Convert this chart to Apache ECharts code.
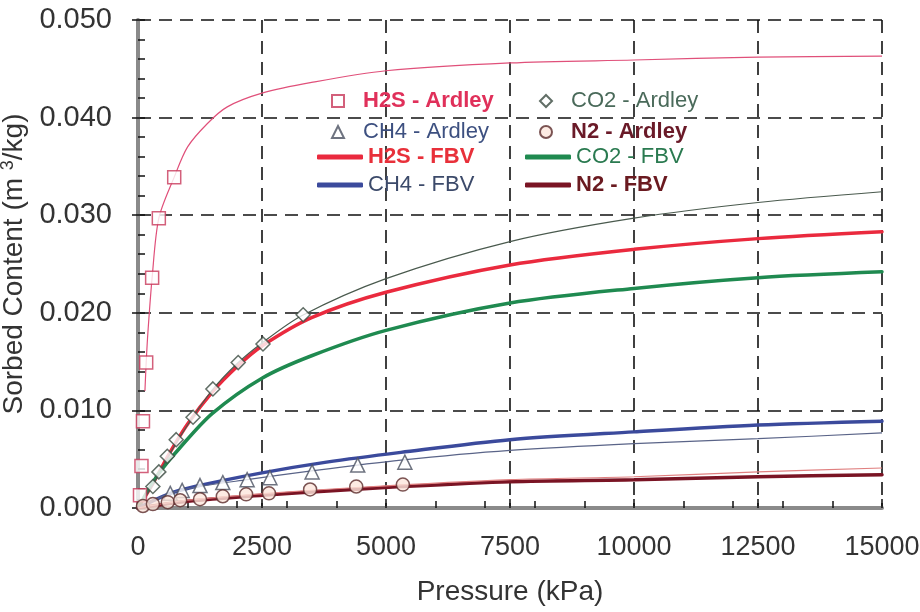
<!DOCTYPE html>
<html><head><meta charset="utf-8">
<script src="https://cdn.jsdelivr.net/npm/echarts@6/dist/echarts.min.js"></script>
<style>html,body{margin:0;padding:0;background:#fff}#c{width:920px;height:612px}</style>
</head><body><div id="c"></div>
<script>
// ---- tick labels ----
const xTickValues = [0, 2500, 5000, 7500, 10000, 12500, 15000];
const yTickValues = [0.000, 0.010, 0.020, 0.030, 0.040, 0.050];
const xTitle = 'Pressure (kPa)';

// ---- series names ----
const seriesNames = ['H2S - Ardley','CO2 - Ardley','CH4 - Ardley','N2 - Ardley','H2S - FBV','CO2 - FBV','CH4 - FBV','N2 - FBV'];

// ---- Ardley measured points [pressure kPa, sorbed m3/kg] ----
const h2sArdleyPts = [[40,0.0013],[70,0.0043],[100,0.0089],[165,0.0149],[285,0.0236],[420,0.0297],[730,0.0339]];
const co2ArdleyPts = [[300,0.0022],[420,0.0037],[590,0.0053],[770,0.0070],[1110,0.0093],[1510,0.0122],[2020,0.0149],[2520,0.0168],[3330,0.0198]];
const ch4ArdleyPts = [[650,0.0015],[890,0.0018],[1250,0.0023],[1710,0.0026],[2200,0.0029],[2660,0.0031],[3510,0.0037],[4430,0.0044],[5380,0.0047]];
const n2ArdleyPts  = [[100,0.0002],[300,0.0004],[600,0.0006],[850,0.0008],[1250,0.0009],[1710,0.0012],[2180,0.0014],[2640,0.0015],[3470,0.0019],[4400,0.0022],[5340,0.0024]];

// ---- Ardley fitted curves (thin lines) ----
const h2sArdleyFit = [[140,0.0120],[165,0.0149],[200,0.0180],[285,0.0236],[420,0.0297],[730,0.0339],[1000,0.0370],[1400,0.0394],[1800,0.0411],[2500,0.0425],[3500,0.0436],[5000,0.0448],[7500,0.0456],[10000,0.0459],[12500,0.0462],[15000,0.0463]];
const co2ArdleyFit = [[0,0],[300,0.0024],[600,0.0052],[1000,0.0085],[1500,0.0121],[2000,0.0148],[2500,0.0169],[3300,0.0197],[5000,0.0235],[7500,0.0273],[10000,0.0297],[12500,0.0313],[15000,0.0324]];
const ch4ArdleyFit = [[0,0],[650,0.0015],[1250,0.0022],[2200,0.0029],[3500,0.0038],[5300,0.0049],[7500,0.0059],[10000,0.0066],[12500,0.0071],[15000,0.0077]];
const n2ArdleyFit  = [[0,0],[1000,0.0008],[2600,0.0015],[4400,0.0021],[7500,0.0029],[10000,0.0032],[12500,0.0037],[15000,0.0041]];

// ---- FBV curves (thick lines) ----
const h2sFBV = [[0,0],[300,0.0025],[600,0.0053],[1000,0.0086],[1500,0.0119],[2000,0.0145],[2500,0.0166],[3500,0.0195],[5000,0.0221],[7500,0.0249],[10000,0.0265],[12500,0.0276],[15000,0.0283]];
const co2FBV = [[0,0],[400,0.0034],[850,0.0062],[1500,0.0097],[2500,0.0133],[3500,0.0156],[5000,0.0182],[7500,0.0210],[10000,0.0225],[12500,0.0236],[15000,0.0242]];
const ch4FBV = [[0,0],[600,0.0014],[1150,0.0022],[2500,0.0036],[3800,0.0047],[5300,0.0057],[7500,0.0070],[10000,0.0078],[12500,0.0085],[15000,0.0089]];
const n2FBV  = [[0,0],[1000,0.0007],[2500,0.0013],[4000,0.0018],[5300,0.0022],[7500,0.0027],[10000,0.0029],[12500,0.0032],[15000,0.0034]];

const FONT = "'Liberation Sans',Arial,sans-serif";
const chart = echarts.init(document.getElementById('c'), null, {renderer:'canvas'});

const xMin = xTickValues[0], xMax = xTickValues[xTickValues.length-1], xInt = xTickValues[1]-xTickValues[0];
const yMin = yTickValues[0], yMax = yTickValues[yTickValues.length-1], yInt = yTickValues[1]-yTickValues[0];

const dash = {show:true, lineStyle:{color:'#111', width:1.6, type:[13,8]}};

function thick(name, data, color){
  return {name, type:'line', data, symbol:'none', showSymbol:false, smooth:0.3, z:2,
    lineStyle:{color, width:3.5, cap:'round'}, itemStyle:{color}};
}
function thin(name, data, color){
  return {name, type:'line', data, symbol:'none', showSymbol:false, smooth:0.3, z:3,
    lineStyle:{color, width:1.2}, itemStyle:{color}, silent:true};
}
function pts(name, data, symbol, border, fill, size){
  return {name, type:'scatter', data, symbol, symbolSize:size, z:4,
    itemStyle:{color:fill, borderColor:border, borderWidth:1.5}};
}

const series = [
  thick(seriesNames[4], h2sFBV, '#ea2a3e'),
  thick(seriesNames[5], co2FBV, '#1f8a50'),
  thick(seriesNames[6], ch4FBV, '#3b4a9c'),
  thick(seriesNames[7], n2FBV, '#7a1424'),
  thin('h2sFit', h2sArdleyFit, '#e0507a'),
  thin('co2Fit', co2ArdleyFit, '#4a5a4e'),
  thin('ch4Fit', ch4ArdleyFit, '#5a6488'),
  thin('n2Fit', n2ArdleyFit, '#e08080'),
  pts(seriesNames[0], h2sArdleyPts, 'rect', '#c8385a', '#fff', 13),
  pts(seriesNames[1], co2ArdleyPts, 'diamond', '#3a4a40', '#fff', 14),
  pts(seriesNames[2], ch4ArdleyPts, 'triangle', '#4a5060', '#fff', 14),
  pts(seriesNames[3], n2ArdleyPts, 'circle', '#5a2a2a', '#fde6dc', 13)
];

const legendSpec = [
  {name:seriesNames[0], left:331, cy:103, line:false, color:'#e0305a', bold:true},
  {name:seriesNames[2], left:331, cy:134, line:false, color:'#3d5080', bold:false},
  {name:seriesNames[4], left:317, cy:159, line:true,  color:'#e8303a', bold:true},
  {name:seriesNames[6], left:317, cy:187, line:true,  color:'#3c4a6a', bold:false},
  {name:seriesNames[1], left:539, cy:103, line:false, color:'#4a6a5a', bold:false},
  {name:seriesNames[3], left:539, cy:134, line:false, color:'#6a1a28', bold:true},
  {name:seriesNames[5], left:525, cy:159, line:true,  color:'#2a7a50', bold:false},
  {name:seriesNames[7], left:525, cy:187, line:true,  color:'#6a1a20', bold:true}
];
const legends = legendSpec.map(s => ({
  data: s.line ? [{name:s.name, icon:'roundRect'}] : [s.name],
  left:s.left, top:s.cy-13, orient:'vertical', padding:0,
  itemWidth: s.line ? 46 : 12, itemHeight: s.line ? 5 : 12, selectedMode:false,
  textStyle:{color:s.color, fontSize:22, fontFamily:FONT, fontWeight:s.bold?'bold':'normal',
             padding:[0,0,0, s.line ? 0 : 14]}
}));

const option = {
  backgroundColor:'#fff',
  animation:false,
  grid:{left:138, right:38, top:20, bottom:104, containLabel:false, outerBoundsMode:'none'},
  legend: legends,
  xAxis:[
    {type:'value', min:xMin, max:xMax, interval:xInt, position:'bottom',
     axisLine:{show:true, lineStyle:{color:'#111', width:2}},
     axisTick:{show:true, inside:true, length:9, lineStyle:{color:'#111', width:1.5}},
     axisLabel:{fontSize:27, color:'#333', margin:26, fontFamily:FONT, formatter:v=>String(v)},
     splitLine:dash,
     name:xTitle, nameLocation:'middle', nameGap:70,
     nameTextStyle:{fontSize:28, color:'#333', fontFamily:FONT}},
    {type:'value', min:xMin, max:xMax, interval:1000, position:'bottom',
     axisLine:{show:false}, axisTick:{show:true, inside:true, length:7, lineStyle:{color:'#111', width:1.5}},
     axisLabel:{show:false}, splitLine:{show:false}},
    {type:'value', min:xMin, max:xMax, position:'top',
     axisLine:{show:true, lineStyle:{color:'#8a8a8a', width:4}}, axisTick:{show:false},
     axisLabel:{show:false}, splitLine:{show:false}}
  ],
  yAxis:[
    {type:'value', min:yMin, max:yMax, interval:yInt, position:'left',
     axisLine:{show:true, lineStyle:{color:'#111', width:2}},
     axisTick:{show:true, inside:false, length:6, lineStyle:{color:'#111', width:1.5}},
     axisLabel:{fontSize:29, color:'#333', margin:26, fontFamily:FONT, formatter:v=>v.toFixed(3)},
     splitLine:dash,
     name:'Sorbed Content (m {s|3}/kg)', nameLocation:'middle', nameGap:97, nameRotate:90,
     nameTextStyle:{fontSize:28, color:'#333', fontFamily:FONT,
       rich:{s:{fontSize:18, color:'#333', fontFamily:FONT, padding:[0,0,12,0]}}}},
    {type:'value', min:yMin, max:yMax, interval:0.002, position:'left',
     axisLine:{show:false}, axisTick:{show:true, inside:true, length:7, lineStyle:{color:'#111', width:1.5}},
     axisLabel:{show:false}, splitLine:{show:false}},
    {type:'value', min:yMin, max:yMax, position:'right',
     axisLine:{show:true, lineStyle:{color:'#8a8a8a', width:4}}, axisTick:{show:false},
     axisLabel:{show:false}, splitLine:{show:false}}
  ],
  series: series
};
chart.setOption(option);
</script>
</body></html>
